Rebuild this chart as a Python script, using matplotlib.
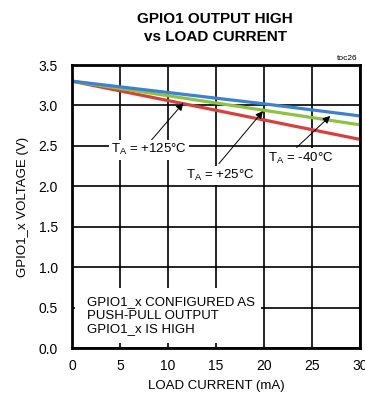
import matplotlib
matplotlib.use("Agg")
import matplotlib.pyplot as plt

plt.rcParams['font.family'] = ['Liberation Sans', 'DejaVu Sans']

# Load current (mA) and output-high voltage (V) at three ambient temperatures
current_ma = [0, 5, 10, 15, 20, 25, 30]
v_minus40 = [3.30, 3.23, 3.16, 3.09, 3.02, 2.945, 2.87]
v_plus25 = [3.30, 3.21, 3.12, 3.03, 2.94, 2.85, 2.76]
v_plus125 = [3.30, 3.18, 3.06, 2.94, 2.82, 2.70, 2.58]

x_ticks = [0, 5, 10, 15, 20, 25, 30]
y_ticks = [0.0, 0.5, 1.0, 1.5, 2.0, 2.5, 3.0, 3.5]

fig = plt.figure(figsize=(3.65, 3.99), dpi=100)
ax = fig.add_axes([72/365, 1 - 348/399, 288/365, 283/399])

ax.plot(current_ma, v_plus125, color='#d8413b', lw=2.3, zorder=3, solid_capstyle='butt')
ax.plot(current_ma, v_plus25, color='#8cc440', lw=2.3, zorder=4, solid_capstyle='butt')
ax.plot(current_ma, v_minus40, color='#3d82d0', lw=2.3, zorder=5, solid_capstyle='butt')

ax.set_xlim(0, 30)
ax.set_ylim(0, 3.5)
ax.set_xticks(x_ticks)
ax.set_yticks(y_ticks)
ax.set_xticklabels([str(t) for t in x_ticks])
ax.set_yticklabels([f"{t:.1f}" for t in y_ticks])
ax.tick_params(axis='x', length=0, labelsize=10, pad=8, colors='black')
ax.tick_params(axis='y', length=0, labelsize=10, pad=10, colors='black')
ax.grid(True, color='black', lw=1.2, zorder=1)
for s in ax.spines.values():
    s.set_linewidth(2.0)
    s.set_zorder(10)

ax.set_xlabel("LOAD CURRENT (mA)", fontsize=9.5, labelpad=5)
ax.set_ylabel("GPIO1_x VOLTAGE (V)", fontsize=9.5, labelpad=7)

fig.text(215/365, 1 - 28/399, "GPIO1 OUTPUT HIGH\nvs LOAD CURRENT", ha='center', va='center',
         fontsize=11, fontweight='bold', linespacing=1.35)
fig.text(358/365, 1 - 58/399, "toc26", ha='right', va='center', fontsize=6)

label_box = dict(facecolor='white', edgecolor='none', pad=1.5)
arrow = dict(arrowstyle='-|>', color='black', lw=0.7, mutation_scale=11, shrinkA=0, shrinkB=0)

ax.annotate("", xy=(11.6, 3.03), xytext=(7.9, 2.52), arrowprops=arrow, zorder=6)
ax.annotate("", xy=(19.9, 2.93), xytext=(15.3, 2.28), arrowprops=arrow, zorder=6)
ax.annotate("", xy=(26.9, 2.87), xytext=(23.4, 2.48), arrowprops=arrow, zorder=6)

ax.text(8.0, 2.45, "T$_\\mathregular{A}$ = +125°C", ha='center', va='center', fontsize=9.5,
        bbox=label_box, zorder=7)
ax.text(15.5, 2.13, "T$_\\mathregular{A}$ = +25°C", ha='center', va='center', fontsize=9.5,
        bbox=label_box, zorder=7)
ax.text(23.8, 2.35, "T$_\\mathregular{A}$ = -40°C", ha='center', va='center', fontsize=9.5,
        bbox=label_box, zorder=7)

ax.add_patch(plt.Rectangle((0.3, 0.06), 19.4, 0.68, facecolor='white', edgecolor='none', zorder=2))
ax.text(1.6, 0.40, "GPIO1_x CONFIGURED AS\nPUSH-PULL OUTPUT\nGPIO1_x IS HIGH", ha='left', va='center',
        fontsize=9.5, linespacing=1.15, zorder=7)

fig.savefig("out.png", dpi=100)
